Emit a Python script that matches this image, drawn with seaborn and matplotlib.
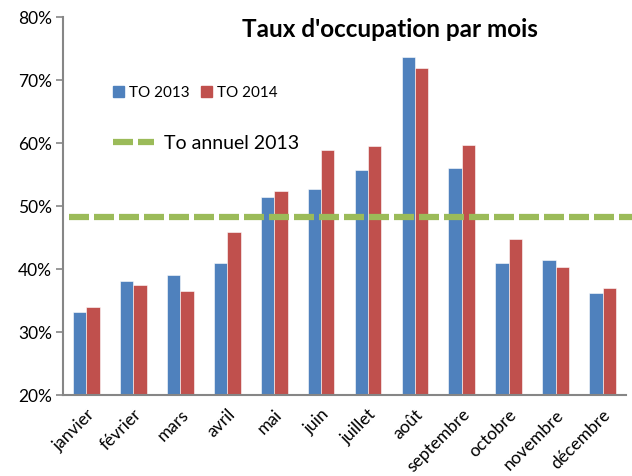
import numpy as np
import pandas as pd
import matplotlib
matplotlib.use("Agg")
import matplotlib.pyplot as plt
from matplotlib.patches import Patch
from matplotlib.lines import Line2D
import seaborn as sns

# Monthly occupancy rates (%)
months = ["janvier", "février", "mars", "avril", "mai", "juin", "juillet",
          "août", "septembre", "octobre", "novembre", "décembre"]
to_2013 = [33.3, 38.1, 39.1, 41.0, 51.5, 52.8, 55.8, 73.7, 56.0, 41.0, 41.5, 36.2]
to_2014 = [34.0, 37.5, 36.6, 45.9, 52.5, 58.9, 59.5, 71.9, 59.7, 44.8, 40.3, 37.1]
to_annuel_2013 = 48.3
series = ["TO 2013", "TO 2014"]
colors = ["#4F81BD", "#C0504D"]
line_color = "#9BBB59"

df = pd.DataFrame({
    "mois": months * 2,
    "taux": to_2013 + to_2014,
    "serie": [series[0]] * 12 + [series[1]] * 12,
})

sns.set_style("white", {"text.color": "black", "xtick.color": "black",
                        "ytick.color": "black"})
plt.rcParams["font.family"] = ["Lato", "DejaVu Sans"]

fig = plt.figure(figsize=(6.32, 4.76), dpi=100)
ax = fig.add_axes([0.0997, 0.1695, 0.8908, 0.7942])

sns.barplot(data=df, x="mois", y="taux", hue="serie", palette=colors,
            saturation=1, width=0.57, gap=0, edgecolor="white", linewidth=0.4,
            legend=False, ax=ax)

ax.axhline(to_annuel_2013, xmin=0.01, xmax=1.02, color=line_color, lw=4.5,
           linestyle=(0, (3.2, 0.8)), clip_on=False, zorder=3)

ax.set_ylim(20, 80)
ax.set_xlim(-0.5, 11.5)
ax.set_yticks(np.arange(20, 81, 10))
ax.set_yticklabels([f"{v}%" for v in range(20, 81, 10)], fontsize=12.5)
ax.set_xticks(range(12))
ax.set_xticklabels(months, rotation=45, ha="right", rotation_mode="anchor",
                   fontsize=12.5)
ax.set_xticks(np.arange(-0.5, 12, 1), minor=True)
ax.tick_params(axis="x", which="major", length=0, pad=8)
ax.tick_params(axis="x", which="minor", length=5, color="#868686", width=1.2)
ax.tick_params(axis="y", length=5, color="#868686", width=1.2, pad=3,
               left=True)
ax.set_xlabel("")
ax.set_ylabel("")
for side in ["top", "right"]:
    ax.spines[side].set_visible(False)
for side in ["left", "bottom"]:
    ax.spines[side].set_color("#868686")
    ax.spines[side].set_linewidth(1.5)

ax.set_title("Taux d'occupation par mois", fontsize=17.5, fontweight="bold",
             color="black", x=0.58, y=0.925)

leg1 = ax.legend(handles=[Patch(color=c, label=s) for c, s in zip(colors, series)],
                 ncol=2, frameon=False, loc="center left",
                 bbox_to_anchor=(0.065, 0.80), fontsize=11,
                 handlelength=0.7, handleheight=0.7, handletextpad=0.3,
                 columnspacing=0.8)
ax.add_artist(leg1)
ax.legend(handles=[Line2D([0], [0], color=line_color, lw=4.5,
                          linestyle=(0, (3.2, 0.8)), label="To annuel 2013")],
          frameon=False, loc="center left", bbox_to_anchor=(0.058, 0.667),
          fontsize=14, handlelength=2.1, handletextpad=0.5)

fig.savefig("out.png", dpi=100)
